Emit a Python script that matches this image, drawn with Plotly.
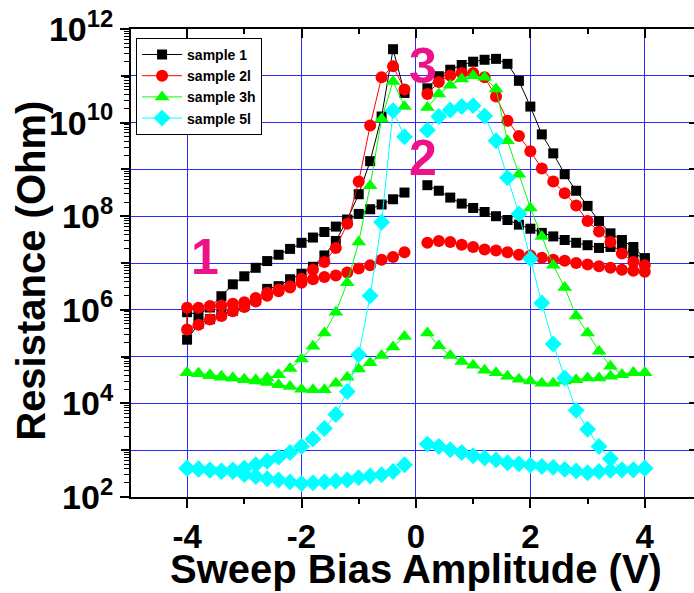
import plotly.graph_objects as go

# ---------------- data ----------------
V_right = [0.2, 0.4, 0.6, 0.8, 1.0, 1.2, 1.4, 1.6, 1.8, 2.0,
           2.2, 2.4, 2.6, 2.8, 3.0, 3.2, 3.4, 3.6, 3.8, 4.0]
V_left = [-4.0, -3.8, -3.6, -3.4, -3.2, -3.0, -2.8, -2.6, -2.4, -2.2,
          -2.0, -1.8, -1.6, -1.4, -1.2, -1.0, -0.8, -0.6, -0.4, -0.2]

# sample 1 (Ohm)
s1_right_high = [5.4e10, 9.8e10, 1.35e11, 1.7e11, 2.0e11, 2.2e11, 2.3e11, 1.8e11, 7.8e10, 2.2e10,
                 5.6e9, 2.2e9, 7.9e8, 3.5e8, 1.66e8, 7.9e7, 4.3e7, 3.1e7, 2.2e7, 1.26e7]
s1_right_low = [4.6e8, 3.5e8, 2.5e8, 1.86e8, 1.5e8, 1.23e8, 1.0e8, 8.3e7, 6.6e7, 5.4e7,
                4.4e7, 3.7e7, 3.1e7, 2.7e7, 2.4e7, 2.1e7, 2.2e7, 1.9e7, 1.6e7, 1.26e7]
s1_left_low = [8.9e5, 7.9e5, 1.12e6, 1.95e6, 3.5e6, 5.2e6, 7.9e6, 1.1e7, 1.5e7, 2.0e7,
               2.7e7, 3.5e7, 4.6e7, 6.0e7, 8.3e7, 1.12e8, 1.41e8, 1.78e8, 2.3e8, 3.2e8]
s1_left_rise = [2.3e5, 5.0e5, 6.3e5, 7.9e5, 9.5e5, 1.2e6, 1.6e6, 2.8e6, 3.2e6, 4.5e6,
                5.9e6, 8.3e6, 1.45e7, 2.95e7, 8.5e7, 2.95e8, 1.5e9, 1.35e10, 3.7e11, 4.3e10]

# sample 2l (Ohm)
s2_right_high = [4.1e10, 7.4e10, 1.02e11, 1.15e11, 1.15e11, 9.3e10, 3.6e10, 1.1e10, 5.2e9, 2.45e9,
                 1.05e9, 5.5e8, 3.1e8, 1.7e8, 7.9e7, 4.7e7, 2.8e7, 1.6e7, 1.05e7, 8.9e6]
s2_right_low = [2.7e7, 2.95e7, 2.8e7, 2.45e7, 2.2e7, 1.95e7, 1.86e7, 1.7e7, 1.5e7, 1.45e7,
                1.3e7, 1.17e7, 1.12e7, 1.0e7, 9.3e6, 8.5e6, 7.9e6, 7.2e6, 6.8e6, 6.5e6]
s2_left_low = [3.8e5, 4.8e5, 6.2e5, 7.4e5, 9.3e5, 1.15e6, 1.5e6, 2.0e6, 2.5e6, 3.0e6,
               3.8e6, 4.5e6, 5.0e6, 5.4e6, 6.3e6, 7.6e6, 8.9e6, 1.17e7, 1.35e7, 1.7e7]
s2_left_rise = [1.1e6, 1.1e6, 1.2e6, 1.23e6, 1.35e6, 1.45e6, 1.78e6, 2.3e6, 2.7e6, 3.2e6,
                4.6e6, 7.2e6, 1.05e7, 2.1e7, 6.9e7, 5.5e8, 8.7e9, 9.3e10, 1.6e11, 5.1e10]

# sample 3h (Ohm)
s3_right_high = [2.1e10, 4.1e10, 6.3e10, 8.5e10, 1.0e11, 9.3e10, 5.2e10, 4.1e9, 7.9e8, 1.5e8,
                 3.7e7, 8.9e6, 3.0e6, 7.4e5, 3.2e5, 1.3e5, 6.2e4, 4.1e4, 4.5e4, 4.5e4]
s3_right_low = [3.2e5, 1.7e5, 1.05e5, 7.9e4, 6.5e4, 5.1e4, 4.5e4, 3.8e4, 3.3e4, 3.0e4,
                2.7e4, 2.7e4, 3.0e4, 3.2e4, 3.5e4, 3.5e4, 3.8e4, 4.1e4, 4.5e4, 4.5e4]
s3_left_low = [4.5e4, 4.3e4, 3.9e4, 3.6e4, 3.5e4, 3.2e4, 3.0e4, 2.8e4, 2.5e4, 2.3e4,
               2.0e4, 1.95e4, 1.95e4, 2.7e4, 3.6e4, 5.4e4, 7.4e4, 1.05e5, 1.6e5, 2.7e5]
s3_left_rise = [4.5e4, 4.4e4, 4.1e4, 3.8e4, 3.5e4, 3.3e4, 3.2e4, 3.5e4, 4.1e4, 5.6e4,
                8.9e4, 1.66e5, 3.2e5, 8.9e5, 3.8e6, 2.8e7, 4.5e8, 1.2e10, 7.6e10, 2.2e10]

# sample 5l (Ohm)
s5_right_high = [6.9e9, 1.35e10, 1.86e10, 2.2e10, 2.3e10, 1.38e10, 4.1e9, 6.6e8, 1.12e8, 1.23e7,
                 1.4e6, 1.86e5, 3.5e4, 7.1e3, 2.8e3, 1.2e3, 6.6e2, 3.8e2, 3.8e2, 4.1e2]
s5_right_low = [1.35e3, 1.2e3, 1.02e3, 8.9e2, 7.6e2, 6.8e2, 6.2e2, 5.4e2, 5.1e2, 4.8e2,
                4.5e2, 4.3e2, 3.9e2, 3.6e2, 3.3e2, 3.5e2, 3.7e2, 3.8e2, 3.8e2, 4.1e2]
s5_left_low = [4.1e2, 3.9e2, 3.7e2, 3.5e2, 3.5e2, 3.0e2, 2.75e2, 2.45e2, 2.3e2, 2.1e2,
               1.95e2, 2.0e2, 2.1e2, 2.2e2, 2.3e2, 2.6e2, 2.8e2, 3.0e2, 3.5e2, 4.9e2]
s5_left_rise = [4.1e2, 4.0e2, 3.8e2, 3.6e2, 3.8e2, 4.1e2, 4.9e2, 5.8e2, 7.1e2, 8.9e2,
                1.2e3, 1.74e3, 2.9e3, 5.8e3, 1.8e4, 1.1e5, 2.0e6, 7.4e7, 1.8e10, 5.0e9]

names = ["sample 1", "sample 2l", "sample 3h", "sample 5l"]
x_tick_vals = [-4, -2, 0, 2, 4]
x_tick_text = ["-4", "-2", "0", "2", "4"]
x_minor_vals = [-3, -1, 1, 3]
y_label_exps = [2, 4, 6, 8, 10, 12]
y_grid_exps = [2, 3, 4, 5, 6, 7, 8, 9, 10, 11, 12]
label_numbers = ["1", "2", "3"]
label_pos_x = [-3.68, 0.12, 0.12]
label_pos_logy = [7.12, 9.25, 11.22]

# ---------------- figure ----------------
series = [
    (names[0], s1_right_high, s1_right_low, s1_left_low, s1_left_rise, "#000000", "square", 10),
    (names[1], s2_right_high, s2_right_low, s2_left_low, s2_left_rise, "#FF0000", "circle", 12),
    (names[2], s3_right_high, s3_right_low, s3_left_low, s3_left_rise, "#00FF00", "triangle-up", 13),
    (names[3], s5_right_high, s5_right_low, s5_left_low, s5_left_rise, "#00FFFF", "diamond", 13),
]

FONT = "Liberation Sans, Arial, sans-serif"
fig = go.Figure()
for name, rh, rl, ll, lr, col, sym, msz in series:
    xs = V_right + V_right[::-1] + [None] + V_left[::-1] + V_left
    ys = rh + rl[::-1] + [None] + ll[::-1] + lr
    fig.add_trace(go.Scatter(
        x=xs, y=ys, name=name, mode="lines+markers",
        line=dict(color=col, width=1),
        marker=dict(color=col, symbol=sym, size=msz, line=dict(width=0)),
        connectgaps=False,
    ))

# invisible helper traces so the mirror / extra axes are drawn
fig.add_trace(go.Scatter(x=[None], y=[None], xaxis="x2", yaxis="y2",
                         showlegend=False, hoverinfo="skip"))
fig.add_trace(go.Scatter(x=[None], y=[None], xaxis="x", yaxis="y3",
                         showlegend=False, hoverinfo="skip"))

blue = "#2a2aff"
xrange = [-4.98, 4.86]
yrange = [2, 12]

minor_y = []
for e in y_grid_exps[:-1]:
    for m in range(2, 10):
        minor_y.append(m * 10 ** e)

ytext = ["10<sup>%d</sup>" % e for e in y_label_exps]

fig.update_layout(
    width=694, height=593,
    margin=dict(l=131, r=0, t=29, b=96),
    paper_bgcolor="white", plot_bgcolor="white",
    showlegend=True,
    legend=dict(
        x=0.009, y=0.981, xanchor="left", yanchor="top",
        bgcolor="white", bordercolor="black", borderwidth=1,
        font=dict(family=FONT, size=14, color="black", weight="bold"),
        tracegroupgap=0, itemwidth=40,
    ),
    xaxis=dict(
        range=xrange, tickmode="array", tickvals=x_tick_vals, ticktext=x_tick_text,
        ticks="outside", ticklen=9, tickwidth=2, tickcolor="black",
        showline=True, linecolor="black", linewidth=2, mirror=False,
        showgrid=True, gridcolor=blue, gridwidth=1, zeroline=False,
        tickfont=dict(family=FONT, size=33, color="black", weight="bold"),
        minor=dict(tickmode="array", tickvals=x_minor_vals, ticks="outside",
                   ticklen=5, tickwidth=2, tickcolor="black", showgrid=False),
    ),
    xaxis2=dict(
        range=xrange, overlaying="x", side="top", anchor="y",
        tickmode="array", tickvals=x_tick_vals, showticklabels=False,
        ticks="inside", ticklen=9, tickwidth=2, tickcolor="black",
        showline=True, linecolor="black", linewidth=2, showgrid=False, zeroline=False,
        minor=dict(tickmode="array", tickvals=x_minor_vals, ticks="inside",
                   ticklen=5, tickwidth=2, tickcolor="black", showgrid=False),
    ),
    yaxis=dict(
        type="log", range=yrange, tickmode="array",
        tickvals=[10 ** e for e in y_label_exps], ticktext=ytext,
        ticks="outside", ticklen=9, tickwidth=2, tickcolor="black",
        showline=True, linecolor="black", linewidth=2, mirror=False,
        showgrid=False, zeroline=False,
        tickfont=dict(family=FONT, size=34, color="black", weight="bold"),
        minor=dict(tickmode="array", tickvals=minor_y, ticks="outside",
                   ticklen=5, tickwidth=1, tickcolor="black", showgrid=False),
    ),
    yaxis2=dict(
        type="log", range=yrange, overlaying="y", side="right", anchor="x",
        tickmode="array", tickvals=[10 ** e for e in y_grid_exps], showticklabels=False,
        ticks="inside", ticklen=5, tickwidth=2, tickcolor="black",
        showline=False, showgrid=True, gridcolor=blue, gridwidth=1, zeroline=False,
    ),
    yaxis3=dict(
        type="log", range=yrange, overlaying="y", side="left", anchor="x",
        tickmode="array", tickvals=[10 ** e for e in y_grid_exps], showticklabels=False,
        ticks="outside", ticklen=9, tickwidth=2, tickcolor="black",
        showline=False, showgrid=False, zeroline=False,
    ),
)

# axis titles
fig.add_annotation(text="Sweep Bias Amplitude (V)", xref="paper", yref="paper",
                   x=(416 - 131) / 563, y=-(569 - 497) / 467.5,
                   xanchor="center", yanchor="middle", showarrow=False,
                   font=dict(family=FONT, size=40, color="black", weight="bold"))
fig.add_annotation(text="Resistance (Ohm)", xref="paper", yref="paper",
                   x=-(131 - 31) / 563, y=(497 - 271) / 467.5, textangle=-90,
                   xanchor="center", yanchor="middle", showarrow=False,
                   font=dict(family=FONT, size=40, color="black", weight="bold"))

# region labels
for t, lx, ly in zip(label_numbers, label_pos_x, label_pos_logy):
    fig.add_annotation(text=t, x=lx, y=ly, xref="x", yref="y", showarrow=False,
                       xanchor="center", yanchor="middle",
                       font=dict(family=FONT, size=50, color="#EE1289", weight="bold"))

fig.write_html("out.html")
